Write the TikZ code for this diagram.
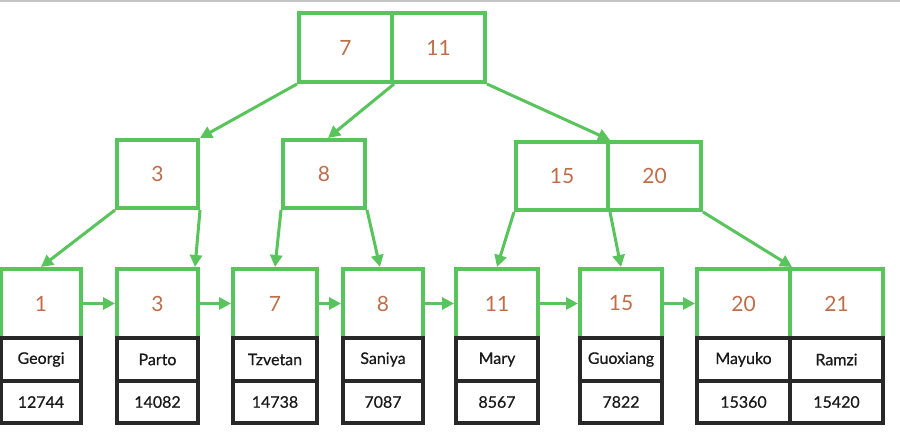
\documentclass[tikz,border=0pt]{standalone}
\usepackage{fontspec}
\setmainfont{Lato}
\newfontfamily\medfont[FakeBold=0.6]{Lato}
\usetikzlibrary{arrows.meta}
\definecolor{bgreen}{RGB}{88,196,92}
\definecolor{bnum}{RGB}{190,110,75}
\definecolor{bdark}{RGB}{40,40,40}
\tikzset{
  gcell/.style={draw=bgreen, line width=4pt, inner sep=0pt, text=bnum,
    font=\fontsize{21}{21}\selectfont, minimum height=69pt},
  dcell/.style={draw=bdark, line width=4pt, inner sep=0pt, text=black!90,
    font=\medfont\fontsize{16}{16}\selectfont},
  ptr/.style={draw=bgreen, line width=3pt, -{Triangle[length=12pt,width=12pt]}}
}
\begin{document}
\begin{tikzpicture}[x=1pt,y=-1pt]
\useasboundingbox (0,0) rectangle (900,434);
\fill[white] (0,0) rectangle (900,434);
\draw[gray!45, line width=1.5pt] (0,0.8) -- (900,0.8);
% root
\node[gcell, minimum width=93pt] (r1) at (345.5,47.5) {7};
\node[gcell, minimum width=93pt] (r2) at (438.5,47.5) {11};
% level 2
\node[gcell, minimum width=81pt, minimum height=68pt] (a) at (157.5,174) {3};
\node[gcell, minimum width=82pt, minimum height=68pt] (b) at (324,174) {8};
\node[gcell, minimum width=92pt, minimum height=68pt] (c1) at (562,176) {15};
\node[gcell, minimum width=93pt, minimum height=68pt] (c2) at (654.5,176) {20};
% leaves: green key cells
\node[gcell, minimum width=80pt] (L1) at (41,303.5) {1};
\node[gcell, minimum width=81pt] (L2) at (157.5,303.5) {3};
\node[gcell, minimum width=84pt] (L3) at (275,303.5) {7};
\node[gcell, minimum width=80pt] (L4) at (383,303.5) {8};
\node[gcell, minimum width=82pt] (L5) at (497,303.5) {11};
\node[gcell, minimum width=82pt] (L6) at (621,303.5) {15};
\node[gcell, minimum width=93pt] (L7) at (743.5,303.5) {20};
\node[gcell, minimum width=93pt] (L8) at (836.5,303.5) {21};
% leaves: dark cells
\foreach \n/\cx/\w/\nm/\id in {
  L1/41/80/Georgi/12744, L2/157.5/81/Parto/14082, L3/275/84/Tzvetan/14738,
  L4/383/80/Saniya/7087, L5/497/82/Mary/8567, L6/621/82/Guoxiang/7822,
  L7/743.5/93/Mayuko/15360, L8/836.5/93/Ramzi/15420}{
  \node[dcell, minimum width=\w pt, minimum height=43pt] (\n n) at (\cx,359.5) {\nm};
  \node[dcell, minimum width=\w pt, minimum height=42pt] (\n i) at (\cx,402) {\id};
}
% tree pointers
\draw[ptr] (r1.south west) -- (a.north east);
\draw[ptr] (r1.south east) -- ([xshift=4pt]b.north);
\draw[ptr] (r2.south east) -- (c1.north east);
\draw[ptr] (a.south west) -- (L1.north);
\draw[ptr] (a.south east) -- ([xshift=-5pt]L2.north east);
\draw[ptr] (b.south west) -- (L3.north);
\draw[ptr] (b.south east) -- ([xshift=-3pt]L4.north);
\draw[ptr] (c1.south west) -- (L5.north);
\draw[ptr] (c1.south east) -- (L6.north);
\draw[ptr] (c2.south east) -- (L7.north east);
% leaf links
\draw[ptr] (L1.east) -- (L2.west);
\draw[ptr] (L2.east) -- (L3.west);
\draw[ptr] (L3.east) -- (L4.west);
\draw[ptr] (L4.east) -- (L5.west);
\draw[ptr] (L5.east) -- (L6.west);
\draw[ptr] (L6.east) -- (L7.west);
\end{tikzpicture}
\end{document}
